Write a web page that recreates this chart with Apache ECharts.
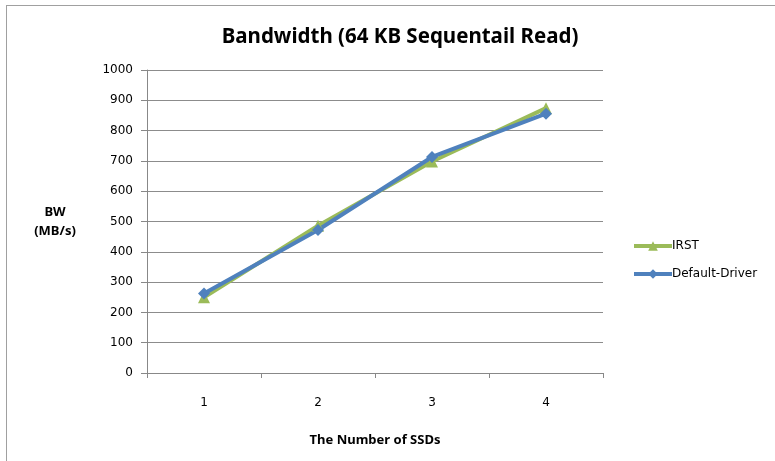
<!DOCTYPE html>
<html><head><meta charset="utf-8">
<script src="https://cdn.jsdelivr.net/npm/echarts@6/dist/echarts.min.js"></script>
<style>
html,body{margin:0;padding:0;background:#fff;}
#frame{position:absolute;left:6px;top:5px;width:769px;height:456px;border-top:1px solid #a0a0a0;border-left:1px solid #a0a0a0;}
#c{position:absolute;left:0;top:0;width:775px;height:461px;}
</style></head>
<body>
<div id="frame"></div>
<div id="c"></div>
<script>
const categories = ['1', '2', '3', '4'];
const irst = [250, 486, 698, 874];
const defaultDriver = [262, 472, 713, 856];
const yTicks = [0, 1000, 100];

const chart = echarts.init(document.getElementById('c'), null, {renderer: 'canvas'});
chart.setOption({
  backgroundColor: 'transparent',
  animation: false,
  title: {
    text: 'Bandwidth (64 KB Sequentail Read)',
    left: 395, top: 22, textAlign: 'center',
    textStyle: {fontFamily: 'Noto Sans', fontWeight: 'bold', fontSize: 20.5, color: '#000'}
  },
  grid: {left: 147, right: 172, top: 70, bottom: 88},
  legend: {
    orient: 'vertical', left: 627, top: 235, itemGap: 16,
    itemWidth: 38, itemHeight: 12,
    lineStyle: {width: 4},
    textStyle: {fontFamily: 'DejaVu Sans', fontSize: 12, color: '#000', padding: [0, 0, 0, -5]},
    data: ['IRST', 'Default-Driver']
  },
  xAxis: {
    type: 'category', data: categories, boundaryGap: true,
    name: 'The Number of SSDs', nameLocation: 'middle', nameGap: 61,
    nameTextStyle: {fontFamily: 'Noto Sans', fontWeight: 'bold', fontSize: 13, color: '#000'},
    axisLine: {lineStyle: {color: '#888', width: 1}},
    axisTick: {show: true, length: 5, lineStyle: {color: '#888'}},
    axisLabel: {fontFamily: 'DejaVu Sans', fontSize: 12, color: '#000', margin: 24}
  },
  yAxis: {
    type: 'value', min: yTicks[0], max: yTicks[1], interval: yTicks[2],
    name: 'BW\n(MB/s)', nameLocation: 'middle', nameRotate: 0, nameGap: 92,
    nameTextStyle: {fontFamily: 'Noto Sans', fontWeight: 'bold', fontSize: 13, color: '#000', lineHeight: 19, align: 'center'},
    axisLine: {show: true, lineStyle: {color: '#888', width: 1}},
    axisTick: {show: true, length: 6, inside: false, lineStyle: {color: '#888'}},
    axisLabel: {fontFamily: 'DejaVu Sans', fontSize: 12, color: '#000', margin: 14, formatter: v => String(v)},
    splitLine: {lineStyle: {color: '#8c8c8c', width: 1}}
  },
  series: [
    {
      name: 'IRST', type: 'line', data: irst,
      symbol: 'triangle', symbolSize: 12,
      lineStyle: {color: '#9BBB59', width: 4},
      itemStyle: {color: '#9BBB59'}
    },
    {
      name: 'Default-Driver', type: 'line', data: defaultDriver,
      symbol: 'diamond', symbolSize: 12,
      lineStyle: {color: '#4F81BD', width: 4},
      itemStyle: {color: '#4F81BD'}
    }
  ]
});
</script>
</body></html>
